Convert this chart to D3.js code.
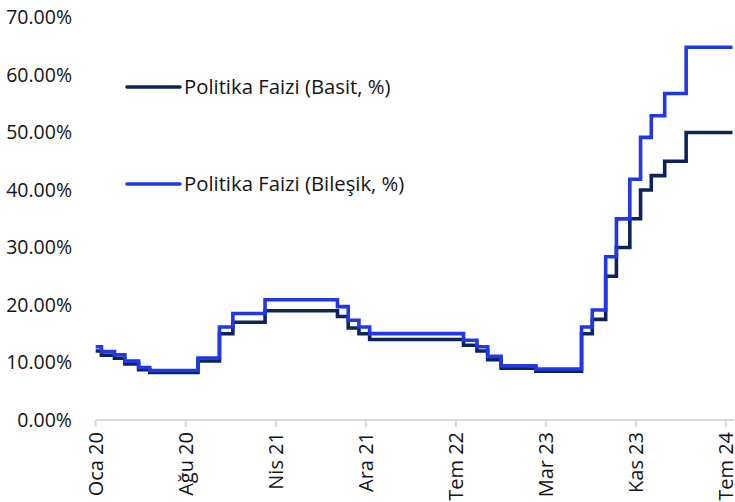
<!DOCTYPE html>
<html>
<head>
<meta charset="utf-8">
<script src="https://cdn.jsdelivr.net/npm/d3@7"></script>
<style>
  html, body { margin: 0; padding: 0; background: #fff; }
  svg { display: block; }
  text { font-family: "Open Sans", "Noto Sans", sans-serif; fill: #141414; }
</style>
</head>
<body>
<svg id="chart" width="735" height="502"></svg>
<script>
// ---- data ----
const changeDates = ["2020-01-01","2020-01-16","2020-02-19","2020-03-17","2020-04-22","2020-05-21",
  "2020-09-24","2020-11-19","2020-12-24","2021-03-18","2021-09-23","2021-10-21","2021-11-18",
  "2021-12-16","2022-08-18","2022-09-22","2022-10-20","2022-11-24","2023-02-23","2023-06-22",
  "2023-07-20","2023-08-24","2023-09-21","2023-10-26","2023-11-23","2023-12-21","2024-01-25",
  "2024-03-21","2024-07-20"];
const simpleRate = [12,11.25,10.75,9.75,8.75,8.25,10.25,15,17,19,18,16,15,14,13,12,10.5,9,8.5,
  15,17.5,25,30,35,40,42.5,45,50,50];
const compoundRate = [12.75,11.90,11.35,10.24,9.14,8.60,10.79,16.18,18.53,20.92,19.72,17.35,16.18,
  15.02,13.88,12.75,11.07,9.42,8.87,16.18,19.12,28.39,34.97,41.88,49.15,52.92,56.79,64.82,64.82];
const seriesNames = ["Politika Faizi (Basit, %)", "Politika Faizi (Bileşik, %)"];
const tickDates = ["2020-01-01","2020-08-23","2021-04-15","2021-12-06","2022-07-29","2023-03-21",
  "2023-11-11","2024-07-03"];
const tickLabels = ["Oca 20","Ağu 20","Nis 21","Ara 21","Tem 22","Mar 23","Kas 23","Tem 24"];
const yTicks = [0,10,20,30,40,50,60,70];

// ---- setup ----
const parse = d3.timeParse("%Y-%m-%d");
const svg = d3.select("#chart");
const colors = ["#0c2458", "#2038e6"];

const x = d3.scaleTime()
  .domain([parse(tickDates[0]), parse(tickDates[tickDates.length - 1])])
  .range([95.7, 726]);
const y = d3.scaleLinear().domain([0, 70]).range([420, 17.5]);

// y labels
svg.append("g").selectAll("text").data(yTicks).join("text")
  .attr("x", 72).attr("y", d => y(d)).attr("dy", "0.35em")
  .attr("text-anchor", "end").style("font-size", "19.5px")
  .text(d => d3.format(".2f")(d) + "%");

// x axis
const xAxis = svg.append("g").attr("transform", "translate(0,420)");
xAxis.append("line").attr("x1", x(parse(tickDates[0]))).attr("x2", 734)
  .attr("stroke", "#d9d9d9").attr("stroke-width", 2);
xAxis.selectAll("line.tick").data(tickDates).join("line").attr("class", "tick")
  .attr("x1", d => x(parse(d))).attr("x2", d => x(parse(d)))
  .attr("y1", 0).attr("y2", 7).attr("stroke", "#d9d9d9").attr("stroke-width", 2);
xAxis.selectAll("text").data(tickDates).join("text")
  .attr("transform", d => `translate(${x(parse(d))},12) rotate(-90)`)
  .attr("dy", "0.35em").attr("text-anchor", "end").style("font-size", "20px")
  .text((d, i) => tickLabels[i]);

// lines
const series = [simpleRate, compoundRate];
const line = d3.line().curve(d3.curveStepAfter)
  .x(d => x(d.date)).y(d => y(d.value));
series.forEach((vals, si) => {
  const pts = changeDates.map((d, i) => ({ date: parse(d), value: vals[i] }));
  svg.append("path").datum(pts)
    .attr("fill", "none").attr("stroke", colors[si]).attr("stroke-width", 3.6)
    .attr("stroke-linejoin", "miter").attr("d", line);
});

// legend
const legendY = [87, 184];
seriesNames.forEach((name, i) => {
  svg.append("line").attr("x1", 127).attr("x2", 180)
    .attr("y1", legendY[i]).attr("y2", legendY[i])
    .attr("stroke", colors[i]).attr("stroke-width", 3.6).attr("stroke-linecap", "round");
  svg.append("text").attr("x", 184).attr("y", legendY[i]).attr("dy", "0.35em")
    .style("font-size", "20.3px").text(name);
});
</script>
</body>
</html>
